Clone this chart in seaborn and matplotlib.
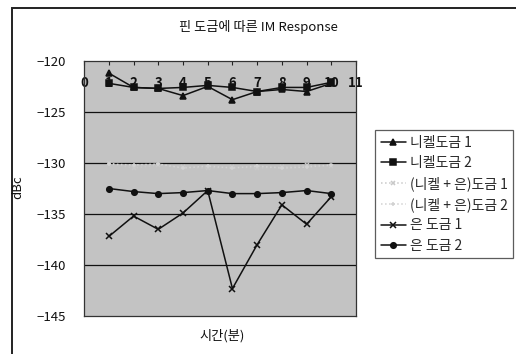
import matplotlib
matplotlib.use("Agg")
import matplotlib.pyplot as plt
from matplotlib.patches import Rectangle
import seaborn as sns
import pandas as pd

minutes = [1, 2, 3, 4, 5, 6, 7, 8, 9, 10]
series_names = ["니켈도금 1", "니켈도금 2", "(니켈 + 은)도금 1", "(니켈 + 은)도금 2", "은 도금 1", "은 도금 2"]
nickel_1 = [-121.2, -122.6, -122.7, -123.4, -122.5, -123.8, -123.0, -122.8, -123.0, -122.2]
nickel_2 = [-122.2, -122.6, -122.7, -122.6, -122.4, -122.6, -123.0, -122.6, -122.6, -122.1]
nickel_silver_1 = [-130.0, -130.5, -130.2, -130.4, -130.5, -130.4, -130.5, -130.4, -130.2, -130.3]
nickel_silver_2 = [-130.1, -130.2, -130.1, -130.5, -130.3, -130.5, -130.3, -130.5, -130.4, -130.2]
silver_1 = [-137.2, -135.2, -136.5, -134.9, -132.7, -142.3, -138.0, -134.1, -136.0, -133.3]
silver_2 = [-132.5, -132.8, -133.0, -132.9, -132.7, -133.0, -133.0, -132.9, -132.7, -133.0]
x_ticks = list(range(0, 12))
y_ticks = [-120, -125, -130, -135, -140, -145]

values = [nickel_1, nickel_2, nickel_silver_1, nickel_silver_2, silver_1, silver_2]
df = pd.DataFrame(
    [(name, m, v) for name, vals in zip(series_names, values) for m, v in zip(minutes, vals)],
    columns=["series", "minute", "dBc"],
)

sns.set_theme(style="white")
plt.rcParams["font.family"] = ["Noto Sans CJK KR", "DejaVu Sans"]

# per-series line styles: (colour, marker, marker size, line style)
styles = {
    series_names[0]: ("#111111", "^", 4.5, "-"),
    series_names[1]: ("#111111", "s", 4, "-"),
    series_names[2]: ("#c9c9c9", "x", 3.5, ":"),
    series_names[3]: ("#d2d2d2", "+", 3.5, ":"),
    series_names[4]: ("#111111", "x", 4.5, "-"),
    series_names[5]: ("#111111", "o", 4, "-"),
}

fig = plt.figure(figsize=(5.16, 3.54), dpi=100)
ax = fig.add_axes([0.163, 0.107, 0.527, 0.721])
ax.set_facecolor("#c3c3c3")

for name in series_names:
    color, marker, ms, ls = styles[name]
    sns.lineplot(
        data=df[df["series"] == name], x="minute", y="dBc", ax=ax,
        color=color, marker=marker, markersize=ms, linestyle=ls,
        linewidth=1.1, markeredgecolor=color, markeredgewidth=1.1,
        label=name, zorder=3,
    )

ax.set_xlim(0, 11)
ax.set_ylim(-145, -120)
ax.set_yticks(y_ticks)
ax.set_yticklabels([f"\u2212{abs(t)}" for t in y_ticks], fontsize=9.5)
ax.set_xticks(x_ticks)
ax.set_xticklabels([str(t) for t in x_ticks], fontsize=9.5, fontweight="bold")
ax.xaxis.tick_top()
ax.tick_params(axis="x", direction="in", length=3, width=0.8, color="#222222",
               pad=-21, labelcolor="#111111")
ax.tick_params(axis="y", direction="out", length=0, pad=13, labelcolor="#111111")
for t in y_ticks[1:-1]:
    ax.axhline(t, color="#111111", linewidth=0.9, zorder=0.5)
for sp in ax.spines.values():
    sp.set_color("#333333")
    sp.set_linewidth(0.9)

ax.set_xlabel("")
ax.set_ylabel("")
fig.text(0.43, 0.051, "시간(분)", ha="center", va="center", fontsize=9.5, color="#111111")
fig.text(0.034, 0.47, "dBc", ha="center", va="center", rotation=90, fontsize=9.5, color="#111111")
fig.text(0.5, 0.924, "핀 도금에 따른 IM Response", ha="center", va="center", fontsize=9.5, color="#111111")

handles, labels = ax.get_legend_handles_labels()
if ax.legend_ is not None:
    ax.legend_.remove()
leg = fig.legend(handles, labels, loc="upper left", bbox_to_anchor=(0.727, 0.632),
                 frameon=True, fancybox=False, edgecolor="#333333", facecolor="white",
                 fontsize=10, handlelength=1.8, handletextpad=0.3, labelspacing=0.45,
                 borderpad=0.4, borderaxespad=0)
leg.get_frame().set_linewidth(0.9)

# outer chart border
fig.patches.append(Rectangle((12 / 516, -0.05), 1.2, 1 - 8 / 354 + 0.05,
                             transform=fig.transFigure, fill=False,
                             edgecolor="#222222", linewidth=1.4))

fig.savefig("out.png", dpi=100)
